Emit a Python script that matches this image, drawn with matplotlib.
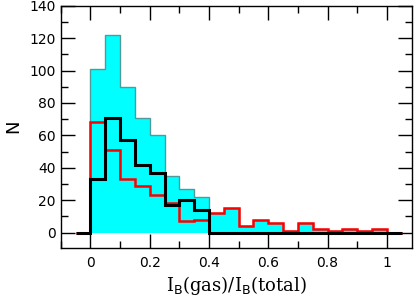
import numpy as np
import matplotlib
matplotlib.use("Agg")
import matplotlib.pyplot as plt
from matplotlib.ticker import MultipleLocator

# bins of width 0.05 from -0.05 to 1.05
bin_lo = -0.05
bin_w = 0.05
red_counts = [0, 68, 51, 33, 29, 23, 18, 7, 8, 12, 15, 4, 8, 6, 1, 6, 2, 1, 2, 1, 2, 0]
black_counts = [0, 33, 71, 57, 42, 37, 17, 20, 14, 0, 0, 0, 0, 0, 0, 0, 0, 0, 0, 0, 0, 0]
total_counts = [r + b for r, b in zip(red_counts, black_counts)]

edges = bin_lo + bin_w * np.arange(len(red_counts) + 1)

fig = plt.figure(figsize=(4.18, 2.97), dpi=100)
ax = fig.add_axes([60.5 / 418, 1 - 247.7 / 297, (412.3 - 60.5) / 418, (247.7 - 5.7) / 297])

ax.stairs(total_counts[1:-1], edges[1:-1], fill=True, color='#00ffff', zorder=1)
ax.stairs(total_counts[1:-1], edges[1:-1], color='#4f9a9a', lw=1.0, zorder=2)
ax.stairs(red_counts, edges, color='#ff0000', lw=1.8, zorder=3)
ax.stairs(black_counts, edges, color='black', lw=2.2, zorder=4)

ax.set_xlim(-0.101, 1.086)
ax.set_ylim(-9.3, 140)

ax.xaxis.set_major_locator(MultipleLocator(0.2))
ax.xaxis.set_minor_locator(MultipleLocator(0.1))
ax.yaxis.set_major_locator(MultipleLocator(20))
ax.yaxis.set_minor_locator(MultipleLocator(10))
ax.tick_params(which='both', direction='in', top=True, right=True, width=1.0, labelsize=10)
ax.tick_params(which='major', length=10)
ax.tick_params(which='minor', length=5)
ax.set_xticks([0, 0.2, 0.4, 0.6, 0.8, 1.0])
ax.set_xticklabels(['0', '0.2', '0.4', '0.6', '0.8', '1'])
ax.tick_params(axis='x', pad=6)
for lbl in ax.get_xticklabels() + ax.get_yticklabels():
    lbl.set_fontweight('medium')
for s in ax.spines.values():
    s.set_linewidth(1.0)

plt.rcParams['mathtext.fontset'] = 'dejavuserif'
ax.set_xlabel(r'I$_{\rm B}$(gas)/I$_{\rm B}$(total)', family='DejaVu Serif', fontsize=13, labelpad=3)
ax.set_ylabel('N', fontsize=13, labelpad=5)

fig.savefig('out.png', dpi=100)
